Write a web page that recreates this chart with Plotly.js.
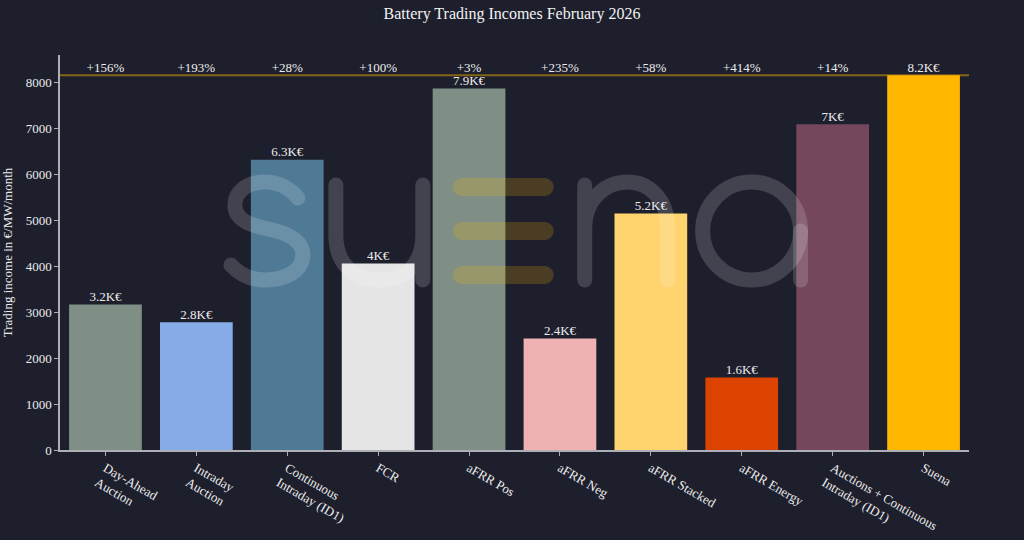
<!DOCTYPE html>
<html>
<head>
<meta charset="utf-8">
<script src="https://cdn.plot.ly/plotly-3.0.0.min.js"></script>
<style>html,body{margin:0;padding:0;background:#1e1f2d;overflow:hidden}#chart{width:1024px;height:540px}</style>
</head>
<body>
<div id="chart"></div>
<script>
const categories = ["Day-Ahead<br>Auction","Intraday<br>Auction","Continuous<br>Intraday (ID1)","FCR","aFRR Pos","aFRR Neg","aFRR Stacked","aFRR Energy","Auctions + Continuous<br>Intraday (ID1)","Suena"];
const incomes = [3170,2780,6320,4060,7870,2430,5150,1580,7090,8160];
const barLabels = ["3.2K€","2.8K€","6.3K€","4K€","7.9K€","2.4K€","5.2K€","1.6K€","7K€","8.2K€"];
const upliftLabels = ["+156%","+193%","+28%","+100%","+3%","+235%","+58%","+414%","+14%",""];
const barColors = ["#7f8f85","#86ace8","#4f7a96","#e5e5e5","#7f8f85","#efb2b2","#ffd36e","#dc4300","#74475c","#ffb700"];
const suenaLevel = incomes[incomes.length-1];

const BG="#1e1f2d", FONT="'Liberation Serif','Times New Roman',serif", TXT="#ececec", AXIS="#aeaeb6";

const logo = `<svg xmlns="http://www.w3.org/2000/svg" viewBox="210 165 610 135" width="610" height="135">
<g fill="none" stroke="#ffffff" stroke-opacity="0.16" stroke-width="15" stroke-linecap="round">
<path d="M298 198C290 188 278 182 265 182C248 182 235 191 235 205C235 220 250 225 268 229C288 233 303 240 303 255C303 271 285 280 265 280C250 280 240 275 231 265"/>
<path d="M336 185V235C336 265 355 280 380 280C405 280 423 265 423 235V185M423 235V280"/>
<path d="M585 185V280M585 228C585 200 605 182 628 182C650 182 668 200 668 228V280"/>
<circle cx="752" cy="231" r="49"/>
<path d="M801 231V280"/>
</g>
<g fill="none" stroke="#ffb700" stroke-opacity="0.2" stroke-width="18" stroke-linecap="round">
<path d="M462 187H545M462 231H545M462 275H545"/>
</g></svg>`;

const L=60,R=969.5,T=55,B=450;
const px=(x)=>(x-L)/(R-L), py=(y)=>(B-y)/(B-T);

Plotly.newPlot("chart",[
 {type:"bar",x:categories,y:incomes,width:0.8,
  marker:{color:barColors,line:{width:0}},hoverinfo:"x+y"},
 {type:"scatter",mode:"text",x:categories,y:incomes,
  text:barLabels,textposition:"top center",cliponaxis:false,
  textfont:{family:FONT,size:13,color:TXT},hoverinfo:"skip"},
 {type:"scatter",mode:"text",x:categories,y:categories.map(()=>suenaLevel),
  text:upliftLabels,textposition:"top center",cliponaxis:false,
  textfont:{family:FONT,size:13,color:TXT},hoverinfo:"skip"}
],{
 width:1024,height:540,
 paper_bgcolor:BG,plot_bgcolor:BG,
 margin:{l:L,r:1024-R,t:T,b:540-B,pad:0},
 showlegend:false,
 font:{family:FONT,size:13,color:TXT},
 title:{text:"Battery Trading Incomes February 2026",font:{family:FONT,size:16,color:"#f2f2f2"},x:0.5,xref:"container",xanchor:"center",y:0.975,yref:"container",yanchor:"middle"},
 xaxis:{type:"category",range:[-0.5,9.5],tickangle:30,showgrid:false,zeroline:false,showline:true,linecolor:AXIS,linewidth:1.5,ticks:"outside",ticklen:4,tickcolor:AXIS,tickfont:{family:FONT,size:13,color:TXT},automargin:false},
 yaxis:{range:[0,8600],tickvals:[0,1000,2000,3000,4000,5000,6000,7000,8000],showgrid:false,zeroline:false,showline:true,linecolor:AXIS,linewidth:1.5,ticks:"outside",ticklen:4,tickcolor:AXIS,tickfont:{family:FONT,size:13,color:TXT},
  title:{text:"Trading income in €/MW/month",font:{family:FONT,size:13,color:TXT},standoff:12},automargin:false},
 shapes:[{type:"line",xref:"paper",x0:0,x1:1,yref:"y",y0:suenaLevel,y1:suenaLevel,line:{color:"rgba(255,183,0,0.45)",width:2},layer:"above"}],
 images:[{source:"data:image/svg+xml;utf8,"+encodeURIComponent(logo),xref:"paper",yref:"paper",x:px(210),y:py(165),sizex:px(820)-px(210),sizey:py(165)-py(300),xanchor:"left",yanchor:"top",sizing:"stretch",layer:"above"}]
},{displayModeBar:false,responsive:false});
</script>
</body>
</html>
